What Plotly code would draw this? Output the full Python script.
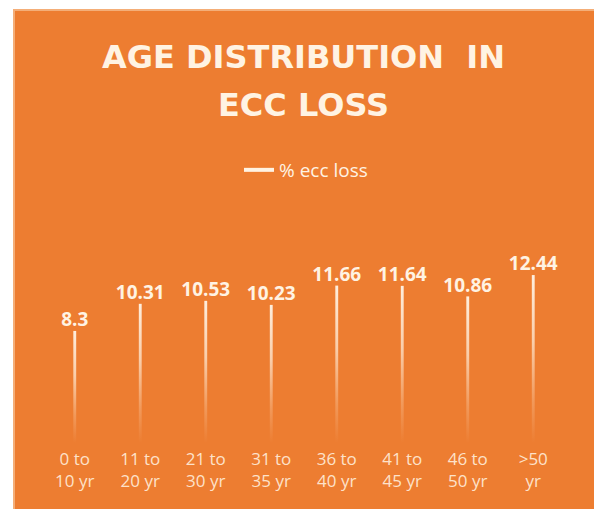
import plotly.graph_objects as go

# ---- data ----
categories = ["0 to<br>10 yr", "11 to<br>20 yr", "21 to<br>30 yr", "31 to<br>35 yr",
              "36 to<br>40 yr", "41 to<br>45 yr", "46 to<br>50 yr", ">50<br>yr"]
ecc_loss = [8.3, 10.31, 10.53, 10.23, 11.66, 11.64, 10.86, 12.44]
series_name = "% ecc loss"
title_lines = ["AGE DISTRIBUTION  IN", "ECC LOSS"]

# ---- styling ----
ORANGE = "#ED7D31"
CREAM = "#FFF3E3"
TICK = "#FDE2CA"
W, H = 594, 509
L, R, T, B = 42, 28, 254, 66
half_w = 0.022

fig = go.Figure()

idx = list(range(len(categories)))
for i, v in zip(idx, ecc_loss):
    fig.add_trace(go.Scatter(
        x=[i - half_w, i + half_w], y=[v, v],
        mode="none", fill="tozeroy",
        fillgradient=dict(
            type="vertical",
            colorscale=[[0, "rgba(255,236,214,0)"],
                        [0.25, "rgba(255,236,214,0.25)"],
                        [0.6, "rgba(255,240,222,0.7)"],
                        [1, "rgba(255,244,230,0.95)"]],
        ),
        showlegend=False, hoverinfo="skip",
    ))

# data labels
fig.add_trace(go.Scatter(
    x=idx, y=ecc_loss, mode="text",
    text=[str(v) for v in ecc_loss], textposition="top center",
    textfont=dict(family="Open Sans", size=19, color=CREAM, weight="bold"),
    showlegend=False, hoverinfo="skip",
))

# legend entry
fig.add_trace(go.Scatter(
    x=[None], y=[None], mode="lines", name=series_name,
    line=dict(color=CREAM, width=4), showlegend=True,
))

pw = W - L - R
ph = H - T - B
def px2py(py):
    return (H - B - py) / ph
def px2px(px):
    return (px - L) / pw

# white margins at left and top of the photographed card
fig.add_shape(type="rect", xref="paper", yref="paper",
              x0=px2px(-20), x1=px2px(13), y0=px2py(H + 20), y1=px2py(-20),
              fillcolor="white", line=dict(width=0), layer="below")
fig.add_shape(type="rect", xref="paper", yref="paper",
              x0=px2px(-20), x1=px2px(W + 20), y0=px2py(9), y1=px2py(-20),
              fillcolor="white", line=dict(width=0), layer="below")
fig.add_shape(type="line", xref="paper", yref="paper",
              x0=px2px(14), x1=px2px(14), y0=px2py(H + 20), y1=px2py(9),
              line=dict(color="#F4AE78", width=2), layer="below")
fig.add_shape(type="line", xref="paper", yref="paper",
              x0=px2px(13), x1=px2px(W + 20), y0=px2py(10), y1=px2py(10),
              line=dict(color="#F4AE78", width=2), layer="below")

for txt, ypx in zip(title_lines, [57, 105]):
    fig.add_annotation(text=txt, xref="paper", yref="paper",
                       x=px2px(303), y=px2py(ypx), xanchor="center", yanchor="middle",
                       showarrow=False,
                       font=dict(family="DejaVu Sans", size=32, color=CREAM, weight="bold"))

fig.update_layout(
    width=W, height=H,
    margin=dict(l=L, r=R, t=T, b=B, pad=0),
    paper_bgcolor=ORANGE, plot_bgcolor="rgba(0,0,0,0)",
    showlegend=True,
    legend=dict(orientation="h", x=px2px(306), xanchor="center",
                y=px2py(170), yanchor="middle", bgcolor="rgba(0,0,0,0)",
                font=dict(family="Open Sans", size=19, color=CREAM)),
    xaxis=dict(range=[-0.5, len(categories) - 0.5], tickvals=idx, ticktext=categories,
               showgrid=False, zeroline=False, showline=False, ticks="",
               ticklabelstandoff=4,
               tickfont=dict(family="Open Sans", size=17, color=TICK)),
    yaxis=dict(range=[0, 14], visible=False, showgrid=False, zeroline=False),
)

fig.write_html("out.html")
